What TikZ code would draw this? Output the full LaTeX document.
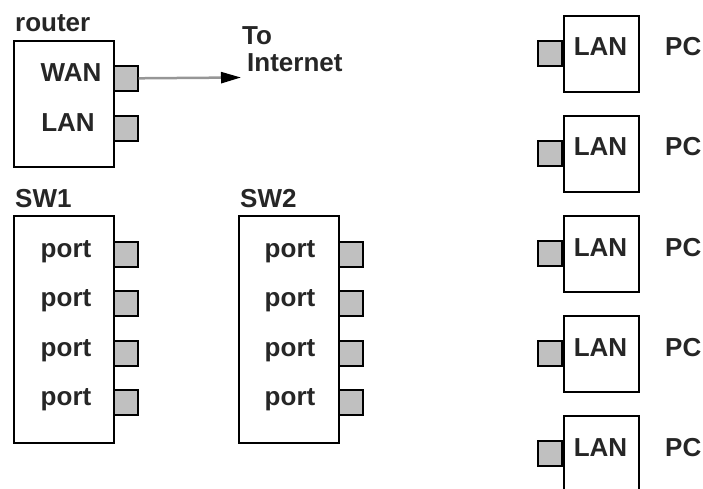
\documentclass[tikz,border=0pt]{standalone}
\usepackage{fontspec}
\setmainfont{Liberation Sans}
\usetikzlibrary{arrows.meta}
\definecolor{portgray}{RGB}{192,192,192}
\definecolor{linegray}{RGB}{150,150,150}
\begin{document}
\begin{tikzpicture}[x=1pt,y=-1pt,
  devbox/.style={draw=black, line width=1.6pt, fill=white, inner sep=0pt, anchor=north west},
  portbox/.style={draw=black, line width=1.6pt, fill=portgray, inner sep=0pt,
    minimum width=24pt, minimum height=25pt},
  txt/.style={inner sep=0pt, text=black!85, font=\fontsize{26}{31}\selectfont\bfseries}]
\useasboundingbox (0,0) rectangle (703,489);
\clip (0,0) rectangle (703,489);
% router
\node[devbox, minimum width=100pt, minimum height=126pt] (router) at (13,40) {};
\node[portbox, anchor=north west] (rwan) at (113,65) {};
\node[portbox, anchor=north west] (rlan) at (113,115) {};
\node[txt, anchor=base west] (routerlbl) at (15,32) {router};
\node[txt, anchor=base] (wanlbl) at (71,82) {WAN};
\node[txt, anchor=base] (rlanlbl) at (68,132) {LAN};
\coordinate (inet) at (241,77.5);
\draw[draw=linegray, line width=2.5pt, -{Triangle[length=20pt,width=11pt,color=black]}] (rwan.east) -- (inet);
\node[txt, anchor=base west] (tolbl) at (242,45) {To};
\node[txt, anchor=base west] (inetlbl) at (247,72) {Internet};
% switches
\node[devbox, minimum width=100pt, minimum height=227pt] (sw1) at (13,215) {};
\node[devbox, minimum width=100pt, minimum height=227pt] (sw2) at (238,215) {};
\node[txt, anchor=base west] (sw1lbl) at (15,207) {SW1};
\node[txt, anchor=base west] (sw2lbl) at (240,207) {SW2};
\foreach \i/\t in {1/241,2/290,3/340,4/389} {
  \node[portbox, anchor=north west] (sw1p\i) at (113,\t) {};
  \node[portbox, anchor=north west] (sw2p\i) at (338,\t) {};
  \node[txt, anchor=base] (sw1t\i) at (66,\t+16) {port};
  \node[txt, anchor=base] (sw2t\i) at (290,\t+16) {port};
}
% PCs
\foreach \i/\t in {1/15,2/115,3/215,4/315,5/415} {
  \node[devbox, minimum width=75pt, minimum height=76pt] (pc\i) at (563,\t) {};
  \node[portbox, anchor=north east] (pcp\i) at (563,\t+25) {};
  \node[txt, anchor=base] (pclan\i) at (600.5,\t+41) {LAN};
  \node[txt, anchor=base west] (pclbl\i) at (665,\t+41) {PC};
}
\end{tikzpicture}
\end{document}
